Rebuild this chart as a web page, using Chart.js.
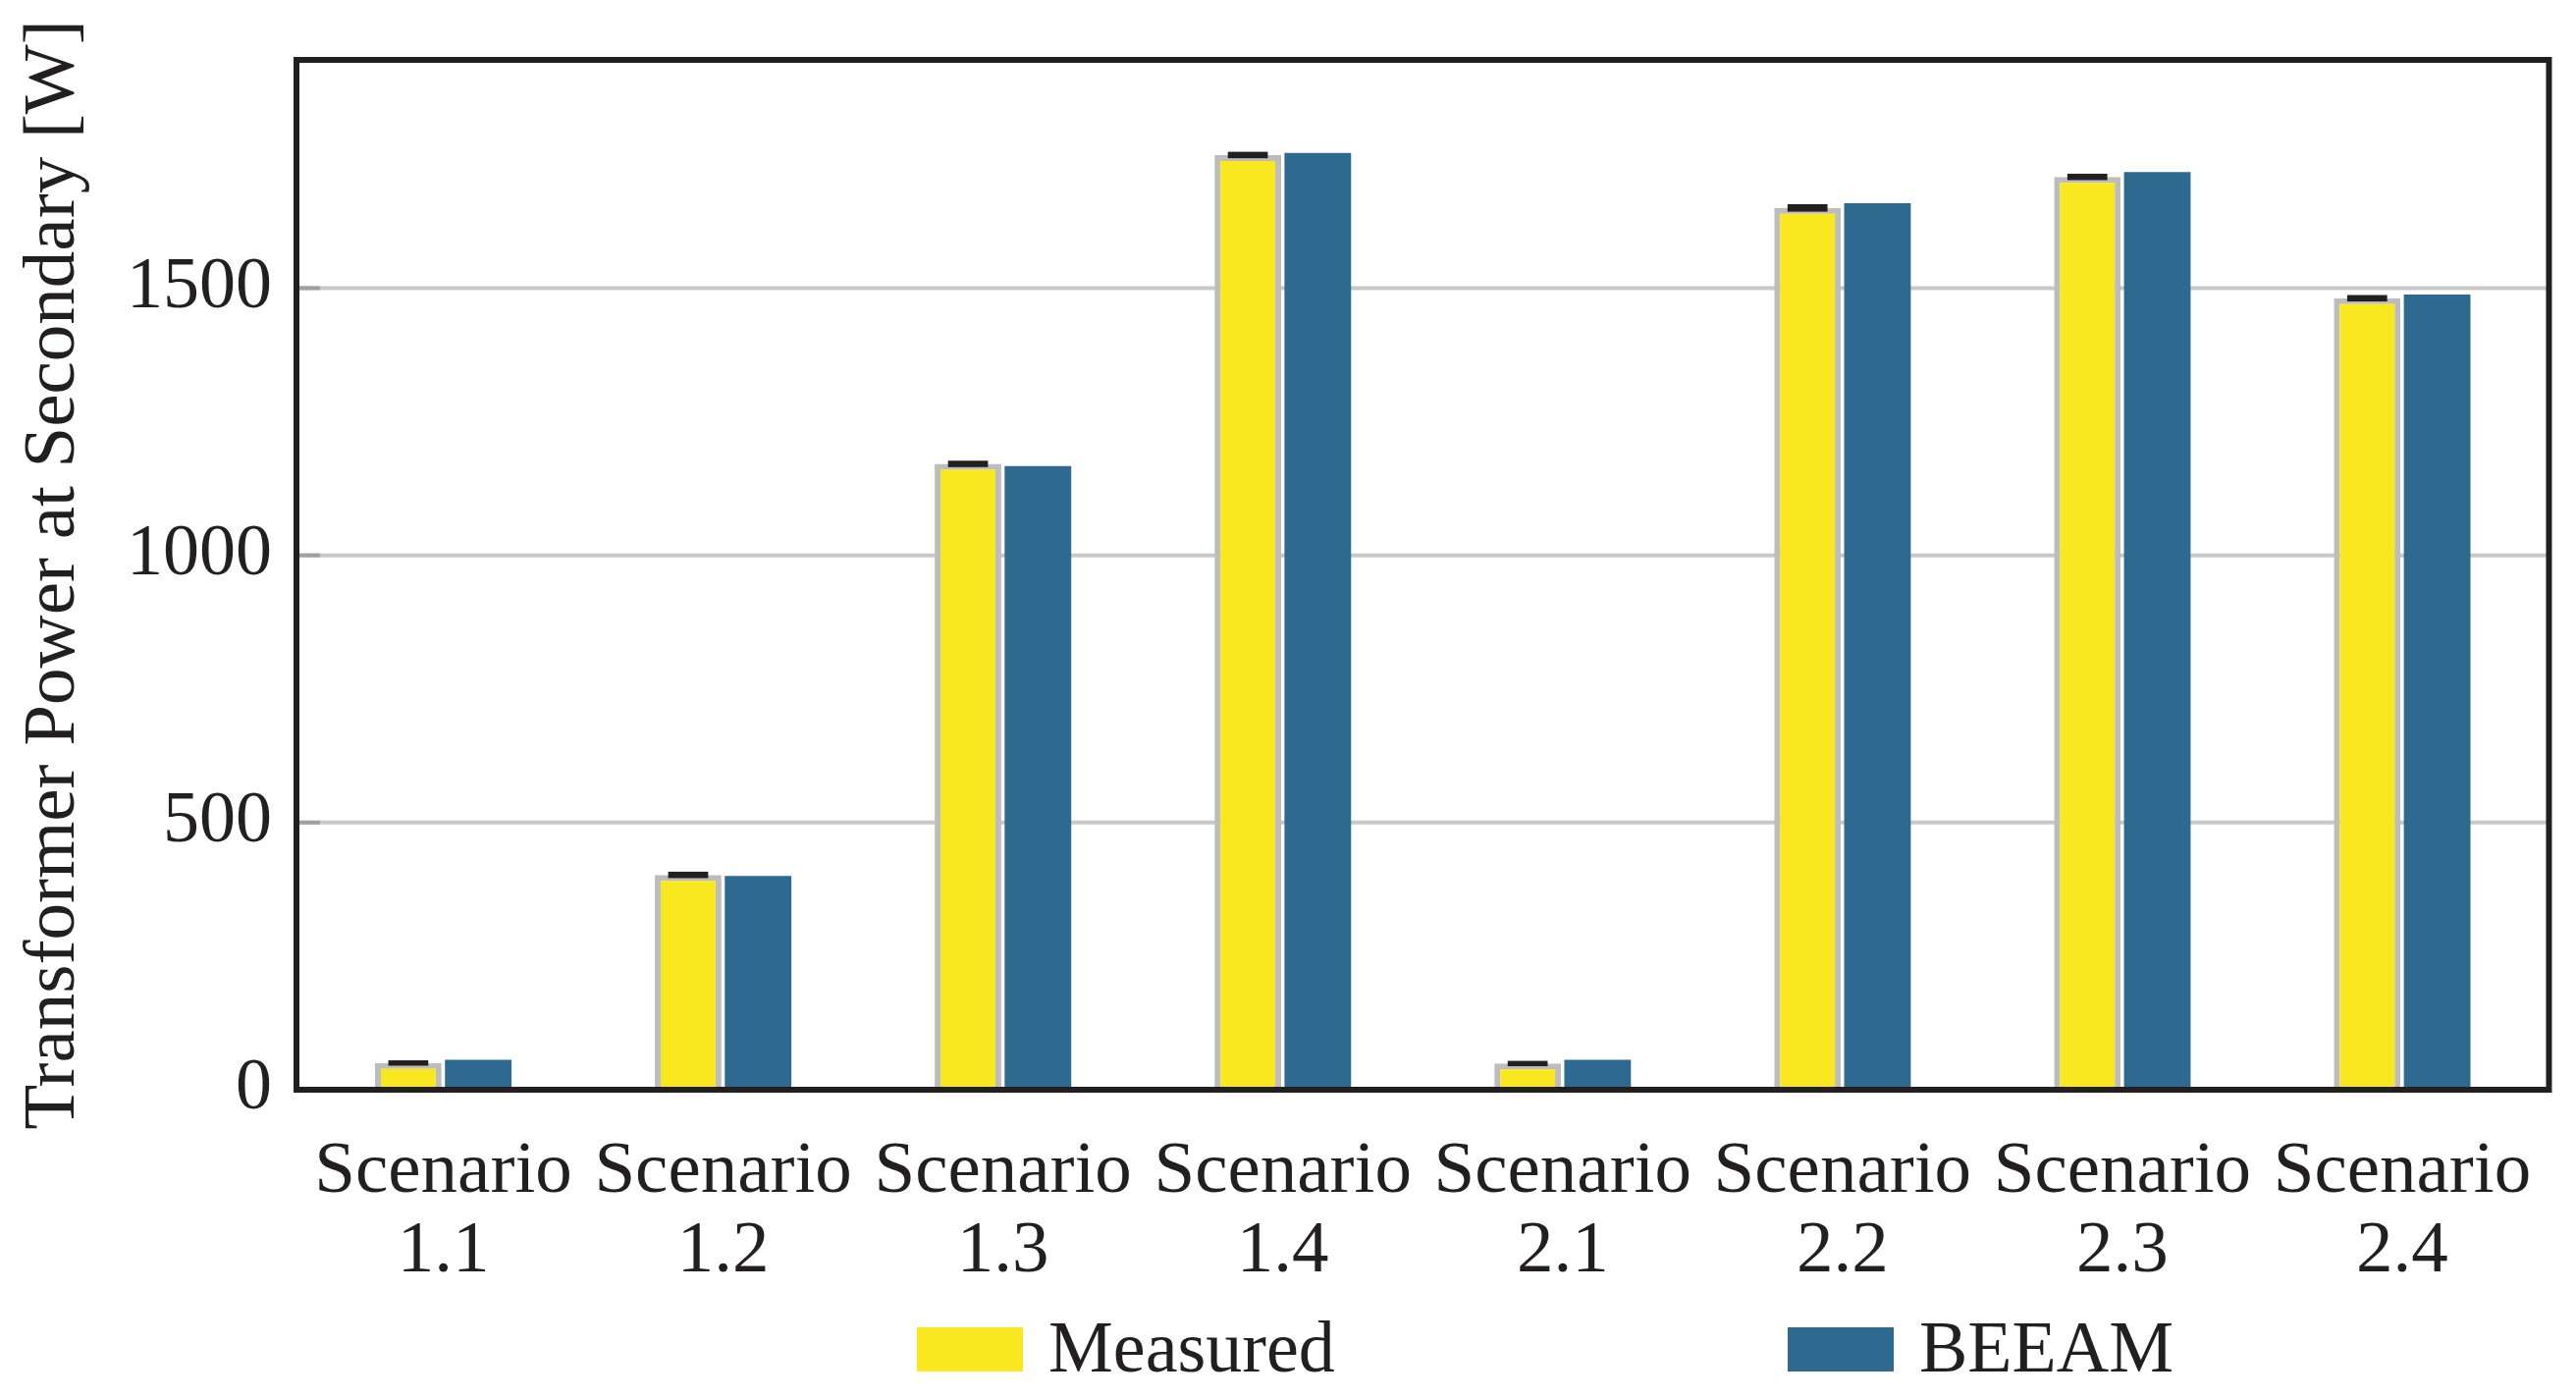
<!DOCTYPE html>
<html>
<head>
<meta charset="utf-8">
<script src="https://cdn.jsdelivr.net/npm/chart.js@4.4.1/dist/chart.umd.min.js"></script>
<style>
  html, body { margin: 0; padding: 0; background: #fff; }
  #wrap { width: 2624px; height: 1424px; }
</style>
</head>
<body>
<div id="wrap"><canvas id="chart" width="2624" height="1424"></canvas></div>
<script>
const scenarios = [["Scenario", "1.1"], ["Scenario", "1.2"], ["Scenario", "1.3"], ["Scenario", "1.4"],
                   ["Scenario", "2.1"], ["Scenario", "2.2"], ["Scenario", "2.3"], ["Scenario", "2.4"]];
const measured = [50, 402, 1171, 1749, 49, 1650, 1708, 1481];
const measuredErr = [5, 6, 6, 6, 5, 7, 6, 6];
const beeam = [56, 400, 1167, 1753, 56, 1659, 1717, 1488];
const yTicks = [0, 500, 1000, 1500];

const FONT = "'Liberation Serif', 'Times New Roman', serif";
const INK = "#231f20";
const YELLOW = "#f9e81f";
const BLUE = "#2e6a8f";

// frame, grid, error caps, axis title and legend
const decor = {
  id: "decor",
  beforeDatasetsDraw(chart) {
    const { ctx, chartArea: a, scales } = chart;
    ctx.save();
    ctx.lineWidth = 4;
    scales.y.ticks.forEach(t => {
      if (t.value === 0) return;
      const y = scales.y.getPixelForValue(t.value);
      ctx.strokeStyle = "#c8c8c8";
      ctx.beginPath(); ctx.moveTo(a.left - 7, y); ctx.lineTo(a.right + 7, y); ctx.stroke();
      ctx.strokeStyle = "#a0a0a0";
      ctx.beginPath(); ctx.moveTo(a.left - 7, y); ctx.lineTo(a.left + 17, y); ctx.stroke();
    });
    ctx.restore();
  },
  afterDatasetsDraw(chart) {
    const { ctx, chartArea: a, scales } = chart;
    ctx.save();
    // error caps on measured bars
    ctx.fillStyle = INK;
    chart.getDatasetMeta(0).data.forEach((bar, i) => {
      const top = scales.y.getPixelForValue(measured[i] + measuredErr[i]);
      const bot = scales.y.getPixelForValue(measured[i] - measuredErr[i]);
      const w = bar.width * 0.6;
      ctx.fillRect(bar.x - w / 2, top, w, bot - top);
    });
    // frame
    ctx.strokeStyle = INK;
    ctx.lineWidth = 6;
    ctx.strokeRect(a.left - 7, a.top, a.right - a.left + 14, a.bottom - a.top);
    // y axis title
    ctx.fillStyle = INK;
    ctx.font = "75px " + FONT;
    ctx.textAlign = "center";
    ctx.textBaseline = "middle";
    ctx.translate(55, (a.top + a.bottom) / 2);
    ctx.rotate(-Math.PI / 2);
    ctx.fillText("Transformer Power at Secondary [W]", 0, 0);
    ctx.restore();

    // legend
    ctx.save();
    ctx.font = "74px " + FONT;
    ctx.textBaseline = "alphabetic";
    ctx.textAlign = "left";
    const items = [{ x: 934 }, { x: 1821 }];
    chart.data.datasets.forEach((ds, i) => {
      const x = items[i].x;
      ctx.fillStyle = ds.backgroundColor;
      ctx.fillRect(x, 1352, 108, 45);
      ctx.fillStyle = INK;
      ctx.fillText(ds.label, x + 134, 1397);
    });
    ctx.restore();
  }
};

new Chart(document.getElementById("chart"), {
  type: "bar",
  data: {
    labels: scenarios,
    datasets: [
      {
        label: "Measured",
        data: measured,
        backgroundColor: YELLOW,
        borderColor: "#bdbdbd",
        borderWidth: 6,
        categoryPercentage: 0.5,
        barPercentage: 0.952,
      },
      {
        label: "BEEAM",
        data: beeam,
        backgroundColor: BLUE,
        borderWidth: 0,
        categoryPercentage: 0.5,
        barPercentage: 0.952,
      },
    ],
  },
  options: {
    responsive: false,
    animation: false,
    devicePixelRatio: 1,
    layout: { padding: { top: 61, right: 30, left: 0, bottom: 0 } },
    plugins: {
      legend: { display: false },
      tooltip: { enabled: false },
    },
    scales: {
      x: {
        grid: { display: false, drawTicks: false },
        border: { display: false },
        ticks: {
          color: INK,
          font: { family: FONT, size: 75, lineHeight: 1.08 },
          padding: 44,
          maxRotation: 0,
          autoSkip: false,
        },
        afterFit(scale) { scale.height = 314; },
      },
      y: {
        min: 0,
        max: 1927,
        grid: { display: false, drawTicks: false },
        border: { display: false },
        ticks: {
          color: INK,
          font: { family: FONT, size: 74 },
          padding: 32,
          callback: v => String(v),
        },
        afterBuildTicks(scale) { scale.ticks = yTicks.map(v => ({ value: v })); },
        afterFit(scale) {
          scale.width = 309;
          scale.paddingTop = 0;
          scale.paddingBottom = 0;
        },
      },
    },
  },
  plugins: [decor],
});
</script>
</body>
</html>
